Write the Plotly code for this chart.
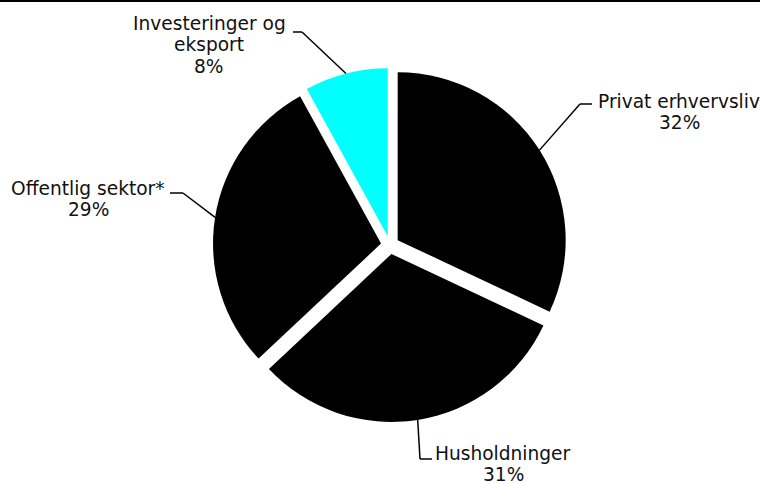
import math
import plotly.graph_objects as go

# Shares by sector (percent)
labels = ["Privat erhvervsliv", "Husholdninger", "Offentlig sektor*", "Investeringer og<br>eksport"]
values = [32, 31, 29, 8]
colors = ["#000000", "#000000", "#000000", "#00FFFF"]

W, H = 760, 484
PULL = 0.054
# pie geometry in pixels
CX, CY, R = 390.0, 245.0, 168.0
half = R * (1 + PULL)
dom_x = [(CX - half) / W, (CX + half) / W]
dom_y = [1 - (CY + half) / H, 1 - (CY - half) / H]

# leader-line elbow and line end for each slice (pixels)
elbows = [(580, 104), (420, 459), (183, 193), (302, 32)]
ends = [(592, 104), (432, 459), (170, 193), (293, 32)]
# label block: centre x and y of the first line (pixels)
label_pos = [(679, 101), (503, 453), (88, 188), (209, 23)]
LINE_STEP = 21.5
FONT_SIZE = 18.6


def px(x, y):
    return x / W, 1 - y / H


fig = go.Figure(go.Pie(
    labels=labels,
    values=values,
    sort=False,
    direction="clockwise",
    rotation=0,
    pull=[PULL] * len(values),
    marker=dict(colors=colors, line=dict(width=0)),
    textinfo="none",
    hoverinfo="skip",
    showlegend=False,
    domain=dict(x=dom_x, y=dom_y),
))

total = sum(values)
shapes = []
annotations = []
start = 0.0
for i, v in enumerate(values):
    frac = v / total
    mid = (start + frac / 2) * 2 * math.pi
    start += frac
    dx, dy = math.sin(mid), -math.cos(mid)
    ox, oy = CX + PULL * R * dx, CY + PULL * R * dy
    ax, ay = ox + R * dx, oy + R * dy
    pts = [(ax, ay), elbows[i], ends[i]]
    for (x0, y0), (x1, y1) in zip(pts[:-1], pts[1:]):
        a0, b0 = px(x0, y0)
        a1, b1 = px(x1, y1)
        shapes.append(dict(type="line", xref="paper", yref="paper",
                           x0=a0, y0=b0, x1=a1, y1=b1,
                           line=dict(color="#000000", width=1.5)))
    lines = labels[i].split("<br>") + [f"{v}%"]
    lx, ly = label_pos[i]
    for k, line in enumerate(lines):
        tx, ty = px(lx, ly + k * LINE_STEP)
        annotations.append(dict(
            x=tx, y=ty, xref="paper", yref="paper",
            xanchor="center", yanchor="middle",
            text=line, showarrow=False,
            font=dict(family="DejaVu Sans", size=FONT_SIZE, color="#111111"),
        ))

# top rule
shapes.append(dict(type="rect", xref="paper", yref="paper",
                   x0=0, x1=1, y0=1 - 2 / H, y1=1,
                   fillcolor="#000000", line=dict(width=0)))

fig.update_layout(
    width=W, height=H,
    margin=dict(l=0, r=0, t=0, b=0),
    paper_bgcolor="#FFFFFF",
    plot_bgcolor="#FFFFFF",
    shapes=shapes,
    annotations=annotations,
)

fig.write_html("out.html")
